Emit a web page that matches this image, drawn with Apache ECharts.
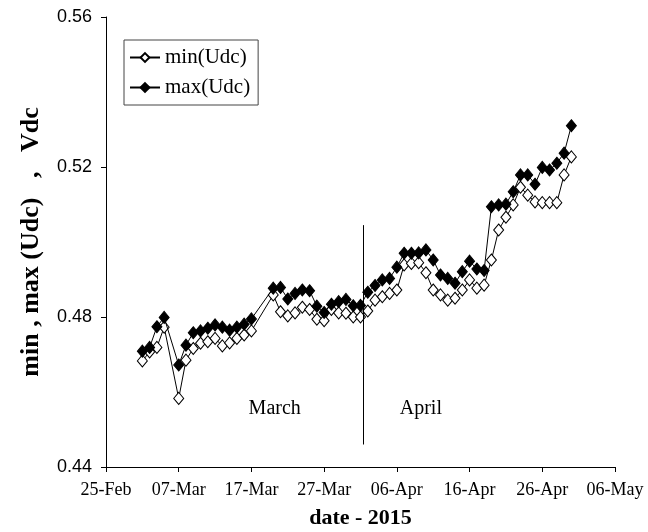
<!DOCTYPE html>
<html>
<head>
<meta charset="utf-8">
<script src="https://cdn.jsdelivr.net/npm/echarts@6/dist/echarts.min.js"></script>
<style>
  html, body { margin: 0; padding: 0; background: #fff; }
  #chart { width: 648px; height: 532px; }
</style>
</head>
<body>
<div id="chart"></div>
<script>
	// measurement days (2015)
	var dates = [
		'2015-03-02','2015-03-03','2015-03-04','2015-03-05',
		'2015-03-07','2015-03-08','2015-03-09','2015-03-10','2015-03-11','2015-03-12',
		'2015-03-13','2015-03-14','2015-03-15','2015-03-16','2015-03-17',
		'2015-03-20','2015-03-21','2015-03-22','2015-03-23','2015-03-24','2015-03-25',
		'2015-03-26','2015-03-27','2015-03-28','2015-03-29','2015-03-30','2015-03-31',
		'2015-04-01','2015-04-02','2015-04-03','2015-04-04','2015-04-05','2015-04-06',
		'2015-04-07','2015-04-08','2015-04-09','2015-04-10','2015-04-11','2015-04-12',
		'2015-04-13','2015-04-14','2015-04-15','2015-04-16','2015-04-17','2015-04-18',
		'2015-04-19','2015-04-20','2015-04-21','2015-04-22','2015-04-23','2015-04-24',
		'2015-04-25','2015-04-26','2015-04-27','2015-04-28','2015-04-29','2015-04-30'
	];
	var minUdc = [
		0.4683,0.4707,0.4719,0.4773,
		0.4583,0.4685,0.4716,0.4730,0.4734,0.4743,
		0.4723,0.4731,0.4743,0.4752,0.4763,
		0.4859,0.4814,0.4803,0.4811,0.4826,0.4820,
		0.4794,0.4790,0.4820,0.4811,0.4810,0.4800,
		0.4800,0.4816,0.4845,0.4854,0.4863,0.4872,
		0.4939,0.4943,0.4945,0.4918,0.4872,0.4859,
		0.4845,0.4850,0.4872,0.4899,0.4877,0.4885,
		0.4952,0.5032,0.5066,0.5099,0.5146,0.5125,
		0.5107,0.5105,0.5105,0.5105,0.5179,0.5227
	];
	var maxUdc = [
		0.4709,0.4719,0.4774,0.4799,
		0.4672,0.4725,0.4758,0.4763,0.4770,0.4779,
		0.4773,0.4765,0.4773,0.4781,0.4795,
		0.4877,0.4879,0.4848,0.4863,0.4872,0.4870,
		0.4829,0.4812,0.4834,0.4841,0.4847,0.4830,
		0.4831,0.4866,0.4884,0.4899,0.4903,0.4933,
		0.4970,0.4970,0.4971,0.4979,0.4952,0.4912,
		0.4903,0.4890,0.4921,0.4949,0.4928,0.4924,
		0.5094,0.5099,0.5101,0.5134,0.5179,0.5179,
		0.5154,0.5199,0.5192,0.5210,0.5237,0.5310
	];
	var xTickLabels = ['25-Feb','07-Mar','17-Mar','27-Mar','06-Apr','16-Apr','26-Apr','06-May'];
	var startDay = '2015-02-25';
	var monthSplit = '2015-04-01';

	function dayNo(s){
		var a = s.split('-'), b = startDay.split('-');
		return (Date.UTC(+a[0], a[1]-1, +a[2]) - Date.UTC(+b[0], b[1]-1, +b[2])) / 86400000;
	}

	var minData = [], maxData = [];
	for (var i = 0; i < dates.length; i++) {
		minData.push([dayNo(dates[i]), minUdc[i]]);
		maxData.push([dayNo(dates[i]), maxUdc[i]]);
	}
	var splitX = dayNo(monthSplit) + 0.4;

	var chart = echarts.init(document.getElementById('chart'));
	var serif = '"Liberation Serif", "DejaVu Serif", serif';
	var sans = '"Liberation Sans", Arial, sans-serif';

	var option = {
		animation: false,
		backgroundColor: '#fff',
		grid: { left: 106, right: 33, top: 17, bottom: 65, outerBoundsMode: 'none', containLabel: false },
		legend: {
			orient: 'vertical',
			left: 124, top: 40,
			padding: [7, 8, 7, 5],
			itemGap: 9,
			itemWidth: 30, itemHeight: 11,
			borderColor: '#444', borderWidth: 1,
			textStyle: { fontFamily: serif, fontSize: 21, color: '#000' },
			data: ['min(Udc)', 'max(Udc)']
		},
		xAxis: {
			type: 'value',
			min: 0, max: 70, interval: 10,
			splitLine: { show: false },
			axisLine: { lineStyle: { color: '#000', width: 1 } },
			axisTick: { length: 5, lineStyle: { color: '#000' } },
			axisLabel: {
				fontFamily: serif, fontSize: 18, color: '#000', margin: 14,
				formatter: function(v){ return xTickLabels[Math.round(v / 10)]; }
			},
			name: 'date - 2015',
			nameLocation: 'middle',
			nameGap: 40,
			nameTextStyle: { fontFamily: serif, fontSize: 22, fontWeight: 'bold', color: '#000' }
		},
		yAxis: {
			type: 'value',
			min: 0.44, max: 0.56, interval: 0.04,
			splitLine: { show: false },
			axisLine: { show: true, lineStyle: { color: '#000', width: 1 } },
			axisTick: { show: true, length: 5, lineStyle: { color: '#000' } },
			axisLabel: {
				fontFamily: sans, fontSize: 18, color: '#000', margin: 14,
				formatter: function(v){ return v.toFixed(2); }
			},
			name: 'min , max (Udc)   ,   Vdc',
			nameLocation: 'middle',
			nameGap: 62,
			nameRotate: 90,
			nameTextStyle: { fontFamily: serif, fontSize: 26, fontWeight: 'bold', color: '#000' }
		},
		series: [
			{
				name: 'min(Udc)',
				type: 'line',
				data: minData,
				symbol: 'diamond',
				symbolSize: [10, 12],
				lineStyle: { color: '#000', width: 1 },
				itemStyle: { color: '#fff', borderColor: '#000', borderWidth: 1 },
				z: 2,
				markLine: {
					silent: true,
					symbol: 'none',
					label: { show: false },
					lineStyle: { color: '#000', width: 1, type: 'solid' },
					data: [[ { coord: [splitX, 0.5045] }, { coord: [splitX, 0.446] } ]]
				},
				markPoint: {
					silent: true,
					symbol: 'rect',
					symbolSize: 0,
					label: {
						show: true, position: 'inside',
						fontFamily: serif, fontSize: 20, color: '#000',
						formatter: function(p){ return p.name; }
					},
					data: [
						{ name: 'March', coord: [23.2, 0.4555] },
						{ name: 'April', coord: [43.3, 0.4555] }
					]
				}
			},
			{
				name: 'max(Udc)',
				type: 'line',
				data: maxData,
				symbol: 'diamond',
				symbolSize: [10, 12],
				lineStyle: { color: '#000', width: 1 },
				itemStyle: { color: '#000', borderColor: '#000', borderWidth: 1 },
				z: 3
			}
		]
	};

	chart.setOption(option);
</script>
</body>
</html>
